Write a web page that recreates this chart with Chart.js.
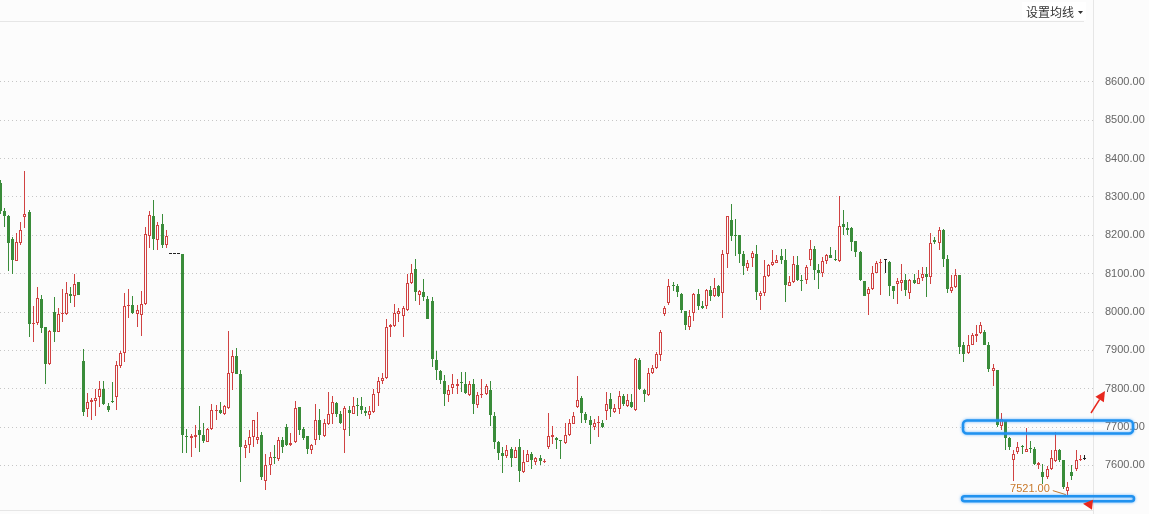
<!DOCTYPE html>
<html>
<head>
<meta charset="utf-8">
<script src="https://cdn.jsdelivr.net/npm/chart.js@4.4.0/dist/chart.umd.min.js"></script>
<style>
html, body { margin: 0; padding: 0; background: #fcfcfc; overflow: hidden; }
canvas { display: block; }
</style>
</head>
<body>
<canvas id="kline" width="1149" height="514"></canvas>
<script>
// daily candles (oldest first)
var opens = [
  8337,8263,8250,8191,8134,8180,8248,8261,7968,7971,
  8035,7961,7864,8000,7949,7995,7996,8046,8043,8077,
  7871,7746,7764,7769,7777,7799,7755,7766,7777,7858,
  7893,8016,8019,7995,7993,8021,8199,8251,8187,8230,
  8174,8151,8151,8151,8151,7677,7672,7673,7691,7678,
  7662,7694,7741,7745,7733,7750,7841,7886,7839,7646,
  7654,7674,7667,7678,7559,7600,7623,7616,7665,7700,
  7654,7661,7752,7695,7676,7641,7665,7717,7676,7707,
  7733,7762,7735,7693,7745,7735,7756,7754,7743,7732,
  7739,7790,7820,7829,7961,7963,7996,7989,8006,8076,
  8111,8045,8052,8035,8030,7876,7846,7819,7784,7803,
  7807,7815,7813,7784,7813,7758,7784,7786,7797,7728,
  7660,7632,7625,7642,7620,7647,7582,7610,7630,7610,
  7618,7610,7648,7675,7671,7665,7658,7679,7709,7752,
  7775,7735,7717,7700,7710,7710,7742,7774,7739,7748,
  7782,7755,7764,7745,7874,7796,7784,7842,7854,7889,
  7995,8023,8070,8067,8048,8003,7962,7997,8048,8015,
  8015,8058,8041,8067,8049,8151,8241,8200,8202,8152,
  8114,8141,8152,8043,8049,8095,8123,8129,8147,8136,
  8069,8077,8123,8082,8084,8135,8164,8109,8102,8134,
  8149,8136,8132,8230,8220,8220,8184,8156,8082,8047,
  8060,8103,8128,8136,8130,8068,8074,8076,8083,8050,
  8083,8074,8089,8100,8091,8187,8180,8213,8139,8056,
  8065,8096,7915,7894,7915,7938,7944,7947,7913,7846,
  7850,7702,7717,7672,7615,7634,7648,7636,7644,7643,
  7601,7582,7569,7591,7611,7639,7613,7532,7582,7591,
  7613,7617
];
var highs = [
  8345,8271,8252,8195,8206,8235,8369,8267,8015,8064,
  8045,7962,7954,8040,8010,8061,8078,8064,8100,8078,
  7904,7788,7775,7799,7820,7820,7762,7817,7871,7898,
  8049,8061,8041,8019,8056,8223,8263,8293,8236,8256,
  8213,8151,8151,8151,8151,7694,7682,7706,7756,7710,
  7697,7760,7758,7765,7757,7950,7900,7907,7848,7665,
  7691,7718,7740,7687,7630,7635,7652,7674,7674,7707,
  7684,7768,7752,7700,7677,7656,7759,7746,7722,7791,
  7781,7765,7742,7756,7756,7778,7776,7778,7752,7755,
  7800,7830,7841,7983,7970,8020,8011,8015,8098,8124,
  8139,8058,8087,8043,8039,7897,7849,7835,7810,7837,
  7826,7844,7844,7820,7826,7792,7826,7812,7821,7738,
  7663,7648,7652,7648,7649,7670,7639,7639,7635,7622,
  7627,7617,7737,7703,7675,7666,7710,7722,7739,7832,
  7780,7739,7728,7722,7729,7719,7791,7789,7761,7794,
  7785,7787,7785,7881,7881,7798,7855,7861,7896,7952,
  8016,8086,8077,8073,8049,8003,8004,8049,8060,8028,
  8060,8067,8089,8071,8163,8251,8283,8243,8202,8158,
  8136,8160,8176,8054,8136,8125,8163,8149,8164,8164,
  8095,8145,8147,8097,8123,8189,8171,8126,8143,8151,
  8169,8163,8303,8267,8235,8223,8184,8160,8082,8064,
  8121,8134,8138,8139,8133,8069,8089,8126,8100,8087,
  8100,8110,8117,8117,8206,8196,8222,8217,8148,8096,
  8113,8096,7922,7939,7945,7967,7973,7952,7922,7865,
  7850,7736,7719,7675,7639,7660,7652,7698,7663,7648,
  7610,7604,7597,7639,7686,7643,7613,7556,7600,7639,
  7626,7626
];
var lows = [
  8255,8221,8108,8099,8132,8176,8219,7934,7923,7967,
  7945,7813,7862,7923,7947,7973,7993,8023,8012,8044,
  7728,7727,7717,7730,7751,7758,7740,7763,7745,7854,
  7870,7984,7995,7960,7938,8019,8167,8161,8162,8167,
  8167,8151,8151,8151,7632,7632,7623,7644,7634,7658,
  7661,7692,7719,7733,7731,7748,7796,7837,7556,7620,
  7633,7649,7656,7561,7536,7576,7604,7611,7632,7650,
  7650,7659,7678,7667,7630,7630,7652,7667,7675,7704,
  7707,7726,7709,7632,7677,7733,7730,7735,7728,7720,
  7737,7756,7813,7826,7935,7961,7974,7935,8003,8074,
  8030,8019,8029,7981,7856,7823,7813,7755,7766,7786,
  7786,7792,7787,7782,7733,7749,7775,7784,7703,7642,
  7615,7580,7618,7596,7618,7557,7580,7608,7590,7600,
  7600,7605,7642,7655,7642,7616,7656,7677,7707,7750,
  7710,7710,7656,7692,7675,7697,7719,7725,7737,7733,
  7756,7752,7750,7743,7796,7765,7782,7839,7852,7873,
  7989,8019,8054,8039,7997,7952,7952,7976,8004,8009,
  8008,8028,8039,8039,7984,8115,8184,8145,8129,8096,
  8106,8117,8032,8006,8042,8091,8121,8128,8126,8025,
  8067,8076,8080,8056,8074,8121,8083,8060,8091,8126,
  8141,8132,8131,8202,8202,8158,8143,8080,8043,7991,
  8058,8102,8045,8103,8043,8035,8022,8055,8043,8035,
  8074,8072,8082,8039,8074,8177,8161,8117,8049,8049,
  8063,7891,7869,7891,7913,7921,7942,7913,7843,7808,
  7701,7691,7639,7639,7559,7630,7630,7634,7632,7600,
  7591,7552,7565,7588,7608,7608,7539,7521,7561,7586,
  7612,7613
];
var closes = [
  8263,8250,8180,8136,8183,8214,8256,7970,7972,8036,
  7958,7865,7951,7949,7995,7998,8050,8043,8073,8045,
  7738,7765,7770,7775,7799,7760,7744,7764,7861,7893,
  8016,8019,7997,8006,8021,8203,8252,8191,8228,8176,
  8197,8151,8151,8151,7680,7673,7676,7679,7678,7664,
  7694,7745,7745,7736,7755,7842,7886,7839,7648,7654,
  7674,7717,7673,7569,7602,7623,7619,7667,7648,7652,
  7659,7749,7691,7672,7642,7652,7717,7678,7710,7735,
  7764,7735,7710,7749,7736,7756,7755,7745,7736,7742,
  7787,7819,7829,7962,7965,7997,8002,8010,8076,8103,
  8052,8054,8039,7983,7878,7849,7822,7787,7797,7811,
  7813,7814,7790,7813,7759,7784,7787,7808,7731,7661,
  7633,7625,7641,7620,7639,7585,7610,7630,7613,7618,
  7611,7611,7677,7680,7665,7664,7680,7711,7730,7771,
  7736,7717,7705,7710,7714,7700,7761,7747,7749,7782,
  7759,7770,7752,7878,7798,7787,7842,7855,7891,7949,
  8010,8069,8069,8051,8004,7967,7990,8048,8015,8011,
  8058,8042,8062,8041,8151,8251,8197,8199,8152,8119,
  8129,8154,8052,8049,8095,8123,8130,8136,8136,8071,
  8079,8126,8083,8081,8117,8164,8110,8103,8134,8149,
  8142,8135,8225,8222,8213,8183,8156,8084,8043,8060,
  8102,8129,8130,8136,8069,8055,8081,8083,8058,8083,
  8076,8089,8100,8091,8180,8183,8213,8139,8061,8065,
  8096,7910,7891,7915,7939,7942,7967,7915,7852,7854,
  7704,7720,7672,7647,7630,7649,7647,7643,7643,7604,
  7605,7569,7591,7620,7640,7613,7543,7543,7573,7613,
  7616,7617
];
var priceTicks = [7600, 7700, 7800, 7900, 8000, 8100, 8200, 8300, 8400, 8500, 8600];
var resistLevel = 7700;
var supportLevel = 7513;

var upColor = '#d04242';
var downColor = '#3a8c3a';
var flatColor = '#222222';
var bgColor = '#fcfcfc';

function candleColor(i) {
  if (i === undefined) return downColor;
  if (closes[i] > opens[i]) return upColor;
  if (closes[i] < opens[i]) return downColor;
  return flatColor;
}

function isUp(i) {
  return i !== undefined && closes[i] > opens[i];
}

var wickData = lows.map(function(l, i) { return {x: i, y: [l, highs[i]]}; });
var bodyData = opens.map(function(o, i) { return {x: i, y: [o, closes[i]]}; });

function roundRectPath(ctx, x, y, w, h, r) {
  ctx.beginPath();
  ctx.moveTo(x + r, y);
  ctx.lineTo(x + w - r, y);
  ctx.arcTo(x + w, y, x + w, y + r, r);
  ctx.lineTo(x + w, y + h - r);
  ctx.arcTo(x + w, y + h, x + w - r, y + h, r);
  ctx.lineTo(x + r, y + h);
  ctx.arcTo(x, y + h, x, y + h - r, r);
  ctx.lineTo(x, y + r);
  ctx.arcTo(x, y, x + r, y, r);
  ctx.closePath();
}

function drawArrow(ctx, x1, y1, x2, y2) {
  var ang = Math.atan2(y2 - y1, x2 - x1);
  var hl = 10, hw = 5;
  var bx = x2 - hl * Math.cos(ang), by = y2 - hl * Math.sin(ang);
  ctx.beginPath();
  ctx.moveTo(x1, y1);
  ctx.lineTo(bx, by);
  ctx.stroke();
  ctx.beginPath();
  ctx.moveTo(x2, y2);
  ctx.lineTo(bx + hw * Math.sin(ang), by - hw * Math.cos(ang));
  ctx.lineTo(bx - hw * Math.sin(ang), by + hw * Math.cos(ang));
  ctx.closePath();
  ctx.fill();
}

// snap candles to whole pixels so the 1px outlines stay sharp
var snapPlugin = {
  id: 'snap',
  afterDatasetsUpdate: function(chart) {
    chart.data.datasets.forEach(function(ds, di) {
      chart.getDatasetMeta(di).data.forEach(function(el) {
        el.x = Math.floor(el.x) + 0.5;
        var top = Math.round(Math.min(el.y, el.base));
        var bot = Math.round(Math.max(el.y, el.base));
        if (bot - top < 1) bot = top + 1;
        el.y = top;
        el.base = bot;
      });
    });
  }
};

var decorPlugin = {
  id: 'decor',
  beforeDraw: function(chart) {
    var ctx = chart.ctx;
    ctx.save();
    ctx.fillStyle = bgColor;
    ctx.fillRect(0, 0, chart.width, chart.height);
    ctx.restore();
  },
  afterDraw: function(chart) {
    var ctx = chart.ctx;
    var area = chart.chartArea;
    var xs = chart.scales.x, ys = chart.scales.y;
    ctx.save();

    // panel lines
    ctx.strokeStyle = '#e6e6e6';
    ctx.lineWidth = 1;
    ctx.beginPath();
    ctx.moveTo(0, area.top - 0.5);
    ctx.lineTo(area.right - 10, area.top - 0.5);
    ctx.moveTo(area.right - 0.5, 0);
    ctx.lineTo(area.right - 0.5, chart.height);
    ctx.moveTo(0, area.bottom + 0.5);
    ctx.lineTo(area.right, area.bottom + 0.5);
    ctx.stroke();

    // menu
    ctx.fillStyle = '#ffffff';
    ctx.fillRect(area.right - 72, 2, 64, 18);
    ctx.fillStyle = '#333333';
    ctx.font = '12px "Noto Sans CJK SC"';
    ctx.textAlign = 'right';
    ctx.textBaseline = 'middle';
    ctx.fillText('设置均线', area.right - 20, 12);
    ctx.beginPath();
    ctx.moveTo(area.right - 16, 11);
    ctx.lineTo(area.right - 11, 11);
    ctx.lineTo(area.right - 13.5, 14);
    ctx.closePath();
    ctx.fill();

    // lowest low marker
    var minLow = Math.min.apply(null, lows);
    var k = lows.indexOf(minLow);
    var px = xs.getPixelForValue(k), py = ys.getPixelForValue(minLow);
    ctx.strokeStyle = '#c8782a';
    ctx.beginPath();
    ctx.moveTo(px - 15, py - 5);
    ctx.lineTo(px - 2, py - 1);
    ctx.stroke();
    ctx.fillStyle = '#c8782a';
    ctx.font = '11px "Liberation Sans"';
    ctx.textAlign = 'right';
    ctx.fillText(minLow.toFixed(2), px - 18, py - 7);

    // blue level boxes
    ctx.strokeStyle = '#2192ef';
    ctx.lineWidth = 2.5;
    ctx.shadowColor = 'rgba(40,150,255,0.7)';
    ctx.shadowBlur = 3;
    var ry = ys.getPixelForValue(resistLevel);
    roundRectPath(ctx, area.right - 131, ry - 6.5, 170, 13, 4);
    ctx.stroke();
    var sy = ys.getPixelForValue(supportLevel);
    roundRectPath(ctx, area.right - 132, sy - 2.5, 172, 5, 2.5);
    ctx.stroke();
    ctx.shadowBlur = 0;

    // red arrows
    ctx.strokeStyle = '#e8281e';
    ctx.fillStyle = '#e8281e';
    ctx.lineWidth = 1.5;
    drawArrow(ctx, area.right - 3, ry - 14, area.right + 11, ry - 36);
    ctx.beginPath();
    ctx.moveTo(area.right - 11, sy + 5);
    ctx.lineTo(area.right - 1, sy + 1);
    ctx.lineTo(area.right - 2, sy + 11);
    ctx.closePath();
    ctx.fill();

    ctx.restore();
  }
};

new Chart(document.getElementById('kline'), {
  type: 'bar',
  data: {
    datasets: [
      {
        label: 'wick',
        data: wickData,
        backgroundColor: function(c) { return candleColor(c.dataIndex); },
        borderWidth: 0,
        barThickness: 1,
        minBarLength: 1,
        grouped: false,
        inflateAmount: 0,
        order: 2
      },
      {
        label: 'body',
        data: bodyData,
        backgroundColor: function(c) { return isUp(c.dataIndex) ? bgColor : candleColor(c.dataIndex); },
        borderColor: function(c) { return candleColor(c.dataIndex); },
        borderWidth: function(c) { return isUp(c.dataIndex) ? 1 : 0; },
        borderSkipped: false,
        barThickness: 3,
        minBarLength: 1,
        grouped: false,
        inflateAmount: 0,
        order: 1
      }
    ]
  },
  options: {
    responsive: false,
    animation: false,
    events: [],
    layout: { padding: { top: 22, bottom: 4, left: 0, right: 0 } },
    plugins: {
      legend: { display: false },
      tooltip: { enabled: false }
    },
    scales: {
      x: {
        type: 'linear',
        min: 0,
        max: 263.3,
        offset: false,
        display: false
      },
      y: {
        position: 'right',
        min: 7483.5,
        max: 8756.5,
        afterBuildTicks: function(scale) {
          scale.ticks = priceTicks.map(function(v) { return {value: v}; });
        },
        afterFit: function(scale) {
          scale.width = 55;
          scale.paddingTop = 0;
          scale.paddingBottom = 0;
        },
        grid: { color: '#c6c6c6', drawTicks: false, lineWidth: 1 },
        border: { display: false, dash: [1, 3] },
        ticks: {
          padding: 11,
          color: '#666666',
          font: { family: 'Liberation Sans', size: 11 },
          callback: function(v) { return v.toFixed(2); }
        }
      }
    }
  },
  plugins: [snapPlugin, decorPlugin]
});
</script>
</body>
</html>
